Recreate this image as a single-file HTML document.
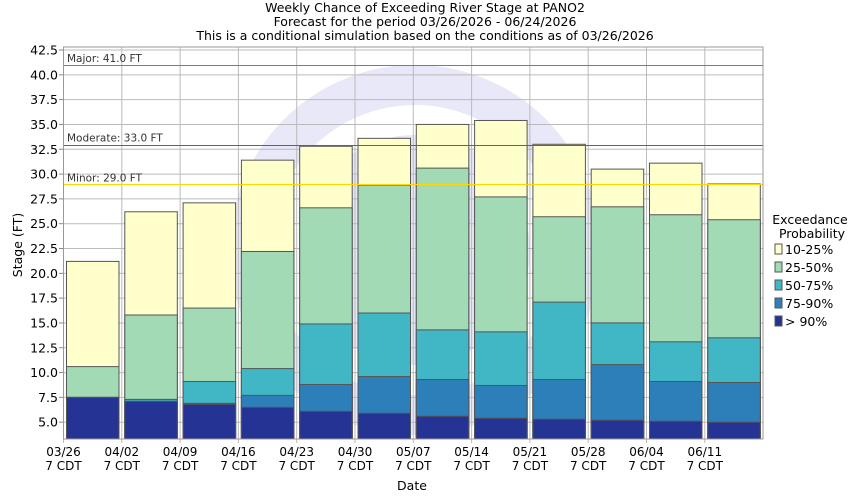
<!DOCTYPE html>
<html><head><meta charset="utf-8"><style>body{margin:0;background:#fff}svg{display:block;font-family:"DejaVu Sans","Liberation Sans",sans-serif}</style></head><body>
<svg width="850" height="500" viewBox="0 0 850 500" xmlns="http://www.w3.org/2000/svg">
<rect width="850" height="500" fill="#fff"/>
<g font-size="12.5" text-anchor="middle" fill="#000">
<text x="425" y="12">Weekly Chance of Exceeding River Stage at PANO2</text>
<text x="425" y="26">Forecast for the period 03/26/2026 - 06/24/2026</text>
<text x="425" y="40">This is a conditional simulation based on the conditions as of 03/26/2026</text>
</g>
<defs><clipPath id="c"><rect x="63.5" y="47" width="699.5" height="392"/></clipPath></defs>
<g clip-path="url(#c)">
<circle cx="415" cy="250" r="165" fill="none" stroke="#e8e8f8" stroke-width="40"/>
<circle cx="415" cy="250" r="115" fill="#e6e6f8"/>
</g>
<g id="grid" stroke="#bbb" stroke-width="1"></g>
<g id="bars" stroke="#555" stroke-width="1"></g>
<line x1="63.5" x2="763" y1="65.5" y2="65.5" stroke="#d040d0"/>
<line x1="63.5" x2="763" y1="145.5" y2="145.5" stroke="#ff2020"/>
<line x1="63.5" x2="763" y1="184.5" y2="184.5" stroke="#ffd700"/>
<g font-size="10.5" fill="#333">
<text x="67" y="62">Major: 41.0 FT</text>
<text x="67" y="141.5">Moderate: 33.0 FT</text>
<text x="67" y="181.5">Minor: 29.0 FT</text>
</g>
<rect x="63.5" y="47" width="699.5" height="392" fill="none" stroke="#999"/>
<g id="yl" font-size="12.5" text-anchor="end"></g>
<g id="xl" font-size="12" text-anchor="middle"></g>
<text x="412" y="490" font-size="12.5" text-anchor="middle">Date</text>
<text transform="translate(22,245) rotate(-90)" font-size="12.5" text-anchor="middle">Stage (FT)</text>
<g font-size="12.5">
<text x="810" y="224" text-anchor="middle">Exceedance</text>
<text x="812" y="238" text-anchor="middle">Probability</text>
<rect x="775" y="244" width="7" height="10" fill="#ffffcc" stroke="#555"/><text x="785" y="254">10-25%</text>
<rect x="775" y="262" width="7" height="10" fill="#a1dab4" stroke="#555"/><text x="785" y="272">25-50%</text>
<rect x="775" y="280" width="7" height="10" fill="#41b6c4" stroke="#555"/><text x="785" y="290">50-75%</text>
<rect x="775" y="298" width="7" height="10" fill="#2c7fb8" stroke="#555"/><text x="785" y="308">75-90%</text>
<rect x="775" y="316" width="7" height="10" fill="#253494" stroke="#555"/><text x="785" y="326">&gt; 90%</text>
</g>
<script>
const ns="http://www.w3.org/2000/svg";
function el(p,t,a,txt){const e=document.createElementNS(ns,t);for(const k in a)e.setAttribute(k,a[k]);if(txt)e.textContent=txt;document.getElementById(p).appendChild(e);}
const Y=v=>50+(42.5-v)*9.925, X0=63.5, S=58.3, B=439;
for(let v=5;v<=42.5;v+=2.5){el('grid','line',{x1:63.5,x2:763,y1:Y(v),y2:Y(v)});el('yl','text',{x:58,y:Y(v)+4.5},v.toFixed(1));el('grid','line',{x1:59,x2:63.5,y1:Y(v),y2:Y(v),stroke:'#888'});}
const d=["03/26","04/02","04/09","04/16","04/23","04/30","05/07","05/14","05/21","05/28","06/04","06/11"];
for(let k=0;k<12;k++){const x=X0+S*k;el('grid','line',{x1:x,x2:x,y1:47,y2:443});el('xl','text',{x:x,y:456},d[k]);el('xl','text',{x:x,y:470},"7 CDT");}
const data=[[7.5,7.5,7.5,10.6,21.2],[7.1,7.1,7.3,15.8,26.2],[6.8,6.9,9.1,16.5,27.1],[6.5,7.7,10.4,22.2,31.4],[6.1,8.8,14.9,26.6,32.8],[5.9,9.6,16.0,28.9,33.6],[5.6,9.3,14.3,30.6,35.0],[5.4,8.7,14.1,27.7,35.4],[5.3,9.3,17.1,25.7,33.0],[5.2,10.8,15.0,26.7,30.5],[5.1,9.1,13.1,25.9,31.1],[5.0,9.0,13.5,25.4,29.0]];
const col=["#253494","#2c7fb8","#41b6c4","#a1dab4","#ffffcc"];
data.forEach((r,i)=>{const x=X0+3+S*i;for(let j=4;j>=0;j--){el('bars','rect',{x:x,y:Y(r[j]),width:52.5,height:B-Y(r[j]),fill:col[j]});}});
</script>
</svg>
</body></html>
